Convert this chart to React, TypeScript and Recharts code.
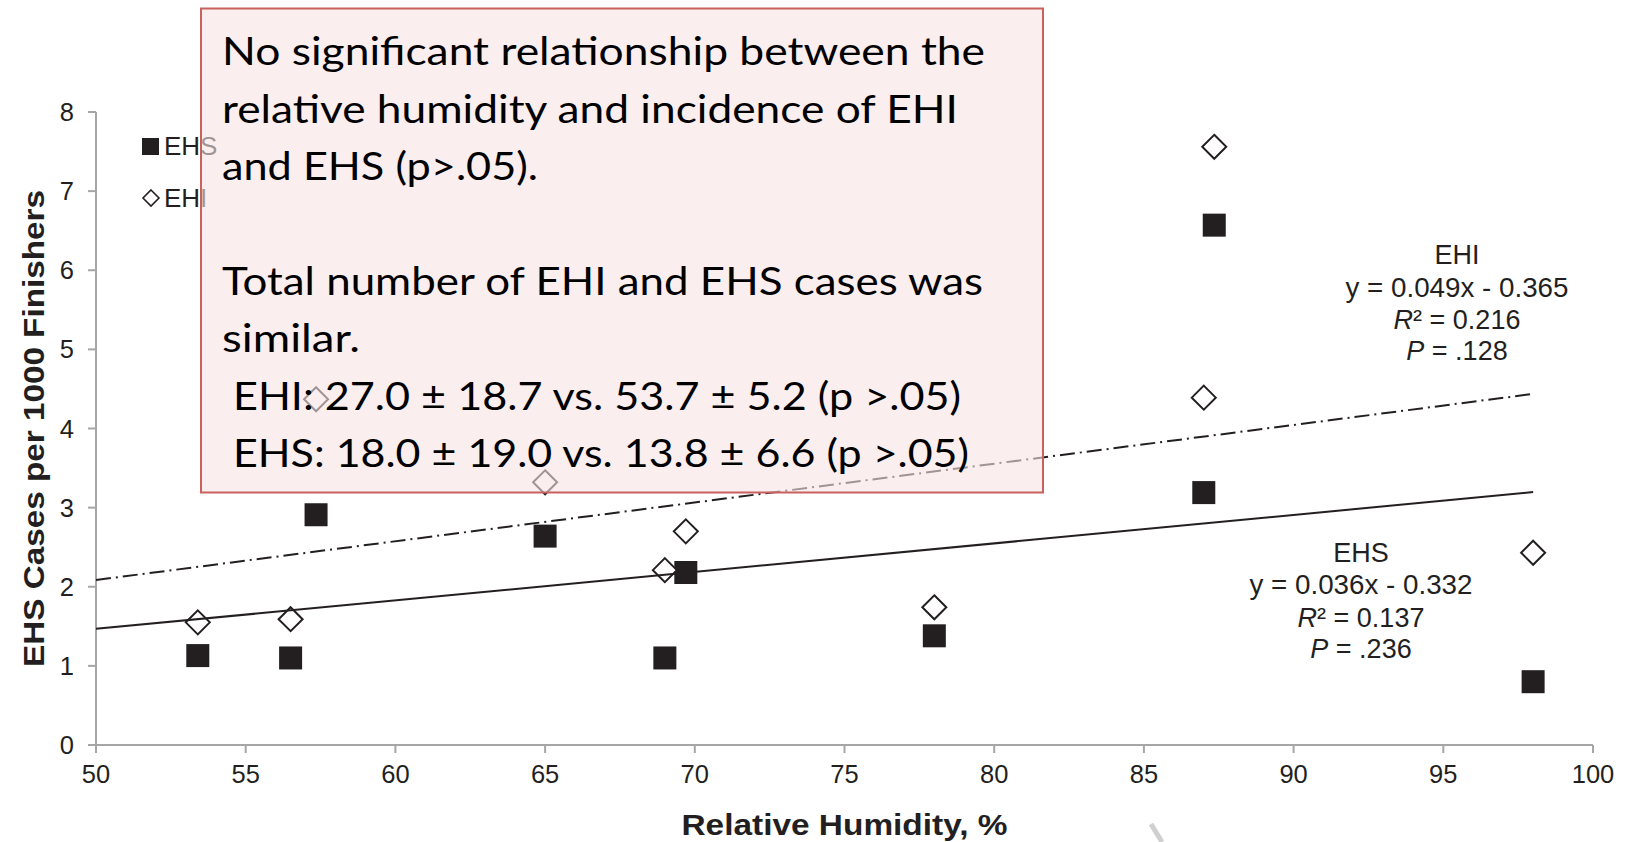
import React from 'react';
import { ScatterChart, Scatter, XAxis, YAxis, Legend } from 'recharts';

// relative humidity of each race (shared by both series)
const HUMIDITY = [53.4, 56.5, 57.35, 65.0, 69.0, 69.7, 78.0, 87.0, 87.35, 98.0];
const EHS_CASES = [1.13, 1.1, 2.91, 2.64, 1.1, 2.18, 1.38, 3.19, 6.57, 0.8];
const EHI_CASES = [1.55, 1.59, 4.37, 3.32, 2.21, 2.7, 1.74, 4.39, 7.56, 2.43];

// trend line end points
const TREND_X = [50, 98];
const EHS_TREND_Y = [1.468, 3.196];
const EHI_TREND_Y = [2.085, 4.437];

const X_TICKS = [50, 55, 60, 65, 70, 75, 80, 85, 90, 95, 100];
const Y_TICKS = [0, 1, 2, 3, 4, 5, 6, 7, 8];

const EHI_NOTE = ['EHI', 'y = 0.049x - 0.365', '0.216', '.128'];
const EHS_NOTE = ['EHS', 'y = 0.036x - 0.332', '0.137', '.236'];

const BOX_LINES = [
  { text: 'No significant relationship between the', x: 222, y: 65, w: 763 },
  { text: 'relative humidity and incidence of EHI', x: 222, y: 122.5, w: 736 },
  { text: 'and EHS (p>.05).', x: 222, y: 180, w: 316 },
  { text: 'Total number of EHI and EHS cases was', x: 222, y: 295, w: 761 },
  { text: 'similar.', x: 222, y: 352, w: 138 },
  { text: 'EHI: 27.0 ± 18.7 vs. 53.7 ± 5.2 (p >.05)', x: 233, y: 409.5, w: 728 },
  { text: 'EHS: 18.0 ± 19.0 vs. 13.8 ± 6.6 (p >.05)', x: 233, y: 467, w: 736 },
];

const toPoints = (xs: number[], ys: number[]) => xs.map((x, i) => ({ x, y: ys[i] }));

const ehs = toPoints(HUMIDITY, EHS_CASES);
const ehi = toPoints(HUMIDITY, EHI_CASES);
const ehsTrend = toPoints(TREND_X, EHS_TREND_Y);
const ehiTrend = toPoints(TREND_X, EHI_TREND_Y);

const INK = '#231f20';
const AXIS = '#a6a6a6';
const FONT = '"Liberation Sans", Arial, sans-serif';

const Square = (props: any) => {
  const { cx, cy } = props;
  return <rect x={cx - 11.5} y={cy - 11.5} width={23} height={23} fill={INK} />;
};

const Diamond = (props: any) => {
  const { cx, cy } = props;
  const r = 12;
  return (
    <path
      d={`M${cx},${cy - r} L${cx + r},${cy} L${cx},${cy + r} L${cx - r},${cy} Z`}
      fill="#fff"
      stroke={INK}
      strokeWidth={2}
    />
  );
};

const NoShape = () => <g />;

const LegendBox = () => (
  <svg width={90} height={90} style={{ display: 'block' }}>
    <rect x={4} y={8} width={17} height={17} fill={INK} />
    <text x={26} y={25} fontSize={26} fontFamily={FONT} fill={INK}>EHS</text>
    <path d="M13,60 L21,68 L13,76 L5,68 Z" fill="#fff" stroke={INK} strokeWidth={1.6} />
    <text x={26} y={77} fontSize={26} fontFamily={FONT} fill={INK}>EHI</text>
  </svg>
);

const Note = ({ lines, cx, top }: { lines: string[]; cx: number; top: number }) => (
  <g fontFamily={FONT} fontSize={27} fill={INK} textAnchor="middle">
    <text x={cx} y={top}>{lines[0]}</text>
    <text x={cx} y={top + 32.5} textLength={223} lengthAdjust="spacingAndGlyphs">{lines[1]}</text>
    <text x={cx} y={top + 65}>
      <tspan fontStyle="italic">R</tspan>² = {lines[2]}
    </text>
    <text x={cx} y={top + 96}>
      <tspan fontStyle="italic">P</tspan> = {lines[3]}
    </text>
  </g>
);

const XTitle = (props: any) => {
  const vb = props.viewBox || { x: 96, width: 1497 };
  return (
    <text
      x={vb.x + vb.width / 2}
      y={835}
      textAnchor="middle"
      fontFamily={FONT}
      fontWeight="bold"
      fontSize={30}
      fill={INK}
      textLength={326}
      lengthAdjust="spacingAndGlyphs"
    >
      Relative Humidity, %
    </text>
  );
};

const YTitle = (props: any) => {
  const vb = props.viewBox || { y: 112, height: 633 };
  const cy = vb.y + vb.height / 2;
  return (
    <text
      x={43.5}
      y={cy}
      transform={`rotate(-90, 43.5, ${cy})`}
      textAnchor="middle"
      fontFamily={FONT}
      fontWeight="bold"
      fontSize={30}
      fill={INK}
      textLength={477}
      lengthAdjust="spacingAndGlyphs"
    >
      EHS Cases per 1000 Finishers
    </text>
  );
};

export default function App() {
  const tickStyle = { fill: INK, fontSize: 25.5, fontFamily: FONT };
  return (
    <div style={{ position: 'absolute', left: 0, top: 0, width: 1627, height: 842, background: '#fff' }}>
      <ScatterChart width={1627} height={842} margin={{ top: 112, right: 34, bottom: 37, left: 0 }}>
        <XAxis
          type="number"
          dataKey="x"
          domain={[50, 100]}
          ticks={X_TICKS}
          height={60}
          tickSize={8}
          tickMargin={12}
          stroke={AXIS}
          strokeWidth={2}
          tick={tickStyle}
          label={XTitle}
        />
        <YAxis
          type="number"
          dataKey="y"
          domain={[0, 8]}
          ticks={Y_TICKS}
          width={96}
          tickSize={8}
          tickMargin={14}
          stroke={AXIS}
          strokeWidth={2}
          tick={tickStyle}
          label={YTitle}
        />
        <Legend
          layout="vertical"
          align="center"
          verticalAlign="middle"
          content={LegendBox}
          wrapperStyle={{ left: 138, top: 130, width: 90, height: 90 }}
        />
        <Scatter name="EHS" data={ehs} shape={Square} isAnimationActive={false} />
        <Scatter name="EHI" data={ehi} shape={Diamond} isAnimationActive={false} />
        <Scatter
          name="EHS trend"
          data={ehsTrend}
          shape={NoShape}
          line={{ stroke: INK, strokeWidth: 2 }}
          legendType="none"
          isAnimationActive={false}
        />
        <Scatter
          name="EHI trend"
          data={ehiTrend}
          shape={NoShape}
          line={{ stroke: INK, strokeWidth: 2, strokeDasharray: '15 5 2 5' }}
          legendType="none"
          isAnimationActive={false}
        />
      </ScatterChart>
      <svg
        width={1627}
        height={842}
        style={{ position: 'absolute', left: 0, top: 0, pointerEvents: 'none' }}
      >
        <Note lines={EHI_NOTE} cx={1457} top={264} />
        <Note lines={EHS_NOTE} cx={1361} top={561.5} />
        <line x1={1151} y1={824} x2={1162} y2={842} stroke="#d0d0d0" strokeWidth={5} />
        <rect
          x={201}
          y={8.5}
          width={842}
          height={484}
          fill="rgba(246, 227, 227, 0.6)"
          stroke="#c9615d"
          strokeWidth={2}
        />
        <g fontFamily="Lato, 'Open Sans', sans-serif" fontSize={39} fill="#000">
          {BOX_LINES.map((l) => (
            <text key={l.text} x={l.x} y={l.y} textLength={l.w} lengthAdjust="spacingAndGlyphs">
              {l.text}
            </text>
          ))}
        </g>
      </svg>
    </div>
  );
}
